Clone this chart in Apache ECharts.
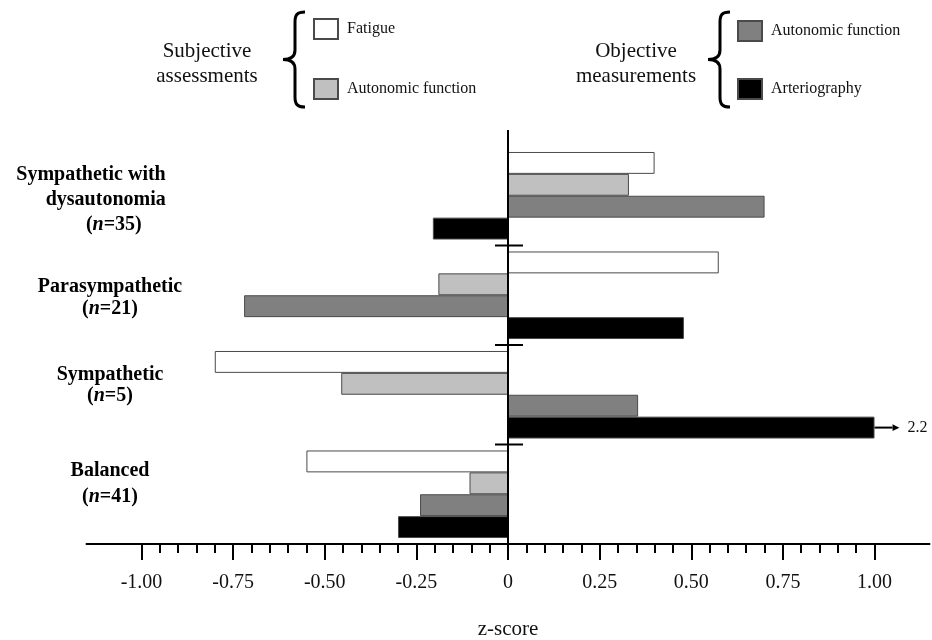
<!DOCTYPE html>
<html><head><meta charset="utf-8">
<script src="https://cdn.jsdelivr.net/npm/echarts@6/dist/echarts.min.js"></script>
<style>html,body{margin:0;padding:0;background:#fff}#c{width:932px;height:640px}</style>
</head><body><div id="c"></div>
<script>
// ---- data ----
const categories = ['Sympathetic with\ndysautonomia', 'Parasympathetic', 'Sympathetic', 'Balanced'];
const groupSizes = [35, 21, 5, 41];
const seriesNames = ['Fatigue', 'Autonomic function (subjective)', 'Autonomic function (objective)', 'Arteriography'];
const fatigue = [0.40, 0.575, -0.80, -0.55];
const autonomicSubjective = [0.33, -0.19, -0.455, -0.105];
const autonomicObjective = [0.70, -0.72, 0.355, -0.24];
const arteriography = [-0.205, 0.48, 2.2, -0.30];
const majorTicks = [-1, -0.75, -0.5, -0.25, 0, 0.25, 0.5, 0.75, 1];
const axisMin = -1.15, axisMax = 1.15;
const displayCap = 1.0; // bars beyond this are drawn to the cap with an arrow showing the true value

// ---- build ----
const seriesValues = [fatigue, autonomicSubjective, autonomicObjective, arteriography];
const seriesColors = ['#ffffff', '#c0c0c0', '#808080', '#000000'];
const minorTicks = [];
for (let i = 0; i < majorTicks.length - 1; i++) {
  for (let j = 1; j <= 4; j++) minorTicks.push(+(majorTicks[i] + j * 0.05).toFixed(2));
}
const SERIF = 'Liberation Serif';
const bold = {fontFamily: SERIF, fontWeight: 'bold', fontSize: 20, lineHeight: 24, color: '#000'};
const boldIt = Object.assign({}, bold, {fontStyle: 'italic'});
const ext = (s, o) => Object.assign({}, s, o);
const NB = '\u00a0';

// per-category label layout (line height, top / bottom spacer heights)
const labelLayout = [{lh: 25, top: 8, bottom: 0}, {lh: 22, top: 6, bottom: 0},
                     {lh: 21, top: 0, bottom: 18}, {lh: 26, top: 0, bottom: 20}];

function catLabel(value, index) {
  const n = groupSizes[index];
  const L = labelLayout[index];
  const k = index;
  let s = L.top ? '{st' + k + '|' + NB + '}\n' : '';
  if (index === 0) {
    const lines = value.split('\n');
    s += '{l0|' + lines[0] + '}{gA|' + NB + '}\n' +
         '{r0|' + lines[1] + '}{gB|' + NB + '}\n' +
         '{r0|(}{ri0|n}{r0|=' + n + ')}{gC|' + NB + '}';
  } else {
    s += value.split('\n').map(l => '{b' + k + '|' + l + '}').join('\n') +
      '\n{b' + k + '|(}{i' + k + '|n}{b' + k + '|=' + n + ')}';
  }
  if (L.bottom) s += '\n{sb' + k + '|' + NB + '}';
  return s;
}

const labelRich = {
  l0: ext(bold, {lineHeight: 25, align: 'left'}),
  r0: ext(bold, {lineHeight: 25, align: 'right'}),
  ri0: ext(boldIt, {lineHeight: 25, align: 'right'}),
  gA: {width: 38, fontSize: 2, lineHeight: 1, align: 'left'},
  gB: {width: 38, fontSize: 2, lineHeight: 1, align: 'right'},
  gC: {width: 62, fontSize: 2, lineHeight: 1, align: 'right'}
};
labelLayout.forEach((L, k) => {
  labelRich['b' + k] = ext(bold, {lineHeight: L.lh});
  labelRich['i' + k] = ext(boldIt, {lineHeight: L.lh});
  labelRich['st' + k] = {fontSize: 2, lineHeight: L.top || 1};
  labelRich['sb' + k] = {fontSize: 2, lineHeight: L.bottom || 1};
});

function toBarData(values) {
  return values.map(v => v > displayCap
    ? {value: displayCap, trueValue: v, label: {show: true}}
    : v);
}

const legendPos = [[313, 18], [313, 78], [737, 20], [737, 78]];

const series = seriesNames.map((name, i) => ({
  name: name,
  type: 'bar',
  data: toBarData(seriesValues[i]),
  barGap: '0%',
  barCategoryGap: '12%',
  itemStyle: {color: seriesColors[i], borderColor: '#4a4a4a', borderWidth: 1},
  emphasis: {disabled: true},
  label: {
    show: false,
    position: 'right',
    distance: 0,
    formatter: p => '{ln| }{hd|▶}{v|' + p.data.trueValue + '}',
    rich: {
      ln: {width: 18, height: 2, backgroundColor: '#000', fontSize: 2, lineHeight: 2},
      hd: {fontSize: 9, color: '#000', fontFamily: 'DejaVu Sans'},
      v: {fontSize: 16, fontFamily: SERIF, color: '#111', padding: [0, 0, 0, 8]}
    }
  }
}));

function brace(id, x, y) {
  const st = {fill: null, stroke: '#000', lineWidth: 3};
  const segs = [
    {type: 'bezierCurve', shape: {x1: 22, y1: 0, cpx1: 14, cpy1: 0, cpx2: 12, cpy2: 3, x2: 12, y2: 10}},
    {type: 'line', shape: {x1: 12, y1: 10, x2: 12, y2: 38}},
    {type: 'bezierCurve', shape: {x1: 12, y1: 38, cpx1: 12, cpy1: 44, cpx2: 8, cpy2: 47.5, x2: 0, y2: 47.5}},
    {type: 'bezierCurve', shape: {x1: 0, y1: 47.5, cpx1: 8, cpy1: 47.5, cpx2: 12, cpy2: 51, x2: 12, y2: 57}},
    {type: 'line', shape: {x1: 12, y1: 57, x2: 12, y2: 85}},
    {type: 'bezierCurve', shape: {x1: 12, y1: 85, cpx1: 12, cpy1: 92, cpx2: 14, cpy2: 95, x2: 22, y2: 95}}
  ];
  return {id: id, type: 'group', x: x, y: y, children: segs.map(s => Object.assign(s, {style: st}))};
}

const option = {
  animation: false,
  backgroundColor: '#fff',
  grid: [
    {left: 86.5, right: 2.5, top: 146, bottom: 96, containLabel: false, outerBoundsMode: 'none'},
    {left: 220, width: 10, top: 146, bottom: 96}
  ],
  legend: seriesNames.map((name, i) => ({
    data: [name],
    left: legendPos[i][0],
    top: legendPos[i][1],
    padding: 0,
    icon: 'rect',
    itemWidth: 24,
    itemHeight: 20,
    selectedMode: false,
    formatter: nm => nm.replace(/ \(.*\)$/, ''),
    textStyle: {fontFamily: SERIF, fontSize: 16, color: '#111', padding: [0, 0, 0, 4]}
  })),
  xAxis: [{
    type: 'value', gridIndex: 0, min: axisMin, max: axisMax, position: 'bottom',
    splitLine: {show: false},
    axisLine: {show: true, lineStyle: {color: '#000', width: 2}},
    axisTick: {show: true, customValues: majorTicks, length: 16, lineStyle: {color: '#000', width: 2}},
    axisLabel: {customValues: majorTicks, margin: 29, fontFamily: SERIF, fontSize: 20, color: '#111',
      formatter: v => v === 0 ? '0' : v.toFixed(2)},
    name: 'z-score', nameLocation: 'middle', nameGap: 75,
    nameTextStyle: {fontFamily: SERIF, fontSize: 21, color: '#111'}
  }, {
    type: 'value', gridIndex: 0, min: axisMin, max: axisMax, position: 'bottom',
    splitLine: {show: false},
    axisLine: {show: false},
    axisLabel: {show: false},
    axisTick: {show: true, customValues: minorTicks, length: 9, lineStyle: {color: '#000', width: 2}}
  }, {
    type: 'value', gridIndex: 1, show: false
  }],
  yAxis: [{
    type: 'category', gridIndex: 0, inverse: true, data: categories, z: 10,
    axisLine: {show: true, onZero: true, lineStyle: {color: '#000', width: 2}},
    axisTick: {show: false},
    axisLabel: {show: false}
  }, {
    type: 'category', gridIndex: 1, inverse: true, data: categories, position: 'left',
    axisLine: {show: false},
    axisTick: {show: false},
    axisLabel: {margin: 110, align: 'center', formatter: catLabel, rich: labelRich}
  }],
  graphic: [
    {id: 'subj', type: 'text', x: 207, y: 64, style: {text: 'Subjective\nassessments', fontFamily: SERIF, fontSize: 21, lineHeight: 25, fill: '#111', align: 'center', verticalAlign: 'middle'}},
    {id: 'obj', type: 'text', x: 636, y: 64, style: {text: 'Objective\nmeasurements', fontFamily: SERIF, fontSize: 21, lineHeight: 25, fill: '#111', align: 'center', verticalAlign: 'middle'}},
    brace('brace1', 283, 12),
    brace('brace2', 708, 12)
  ],
  series: series
};

const chart = echarts.init(document.getElementById('c'), null, {renderer: 'canvas'});
chart.setOption(option);

// y-axis extension above the plot and category separators crossing the axis
const x0 = chart.convertToPixel({xAxisIndex: 0}, 0);
const yc = categories.map((c, i) => chart.convertToPixel({yAxisIndex: 0}, i));
const band = Math.abs(yc[1] - yc[0]);
const topY = Math.min.apply(null, yc) - band / 2;
const extra = [{id: 'yext', type: 'line', z: 20, shape: {x1: x0, y1: topY - 16, x2: x0, y2: topY}, style: {stroke: '#000', lineWidth: 2}}];
for (let i = 0; i < yc.length - 1; i++) {
  const y = (yc[i] + yc[i + 1]) / 2;
  extra.push({id: 'sep' + i, type: 'line', z: 20, shape: {x1: x0 - 13, y1: y, x2: x0 + 15, y2: y}, style: {stroke: '#000', lineWidth: 2}});
}
chart.setOption({graphic: extra});
</script>
</body></html>
